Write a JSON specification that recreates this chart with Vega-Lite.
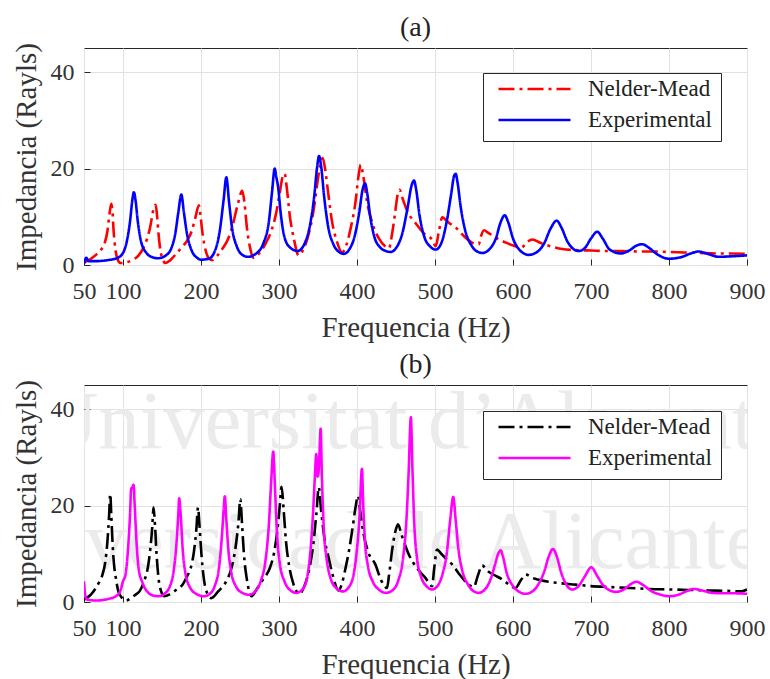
{
"$schema": "https://vega.github.io/schema/vega-lite/v6.json",
"autosize": {"type": "pad"},
"padding": {"left": 11, "top": 13, "right": 0, "bottom": 2},
"background": "white",
"spacing": 120,
"bounds": "flush",
"config": {
  "font": "Liberation Serif",
  "view": {"stroke": "#262626", "strokeWidth": 1},
  "axis": {"labelFont": "Liberation Serif", "titleFont": "Liberation Serif", "labelFontSize": 24, "titleFontSize": 29, "titleFontWeight": "normal", "labelColor": "#333333", "titleColor": "#333333", "gridColor": "#e2e2e2", "gridWidth": 1, "domain": false, "ticks": true, "tickColor": "#262626", "tickSize": -6, "labelOverlap": false, "labelFlush": false},
  "axisX": {"labelPadding": 20, "titlePadding": 10},
  "axisY": {"labelPadding": 16, "titlePadding": 9},
  "title": {"font": "Liberation Serif", "fontSize": 28, "fontWeight": "normal", "color": "#222222", "offset": 1},
  "legend": {"orient": "none", "legendX": 399, "title": null, "symbolType": "stroke", "symbolSize": 5184, "symbolStrokeWidth": 2.6, "labelFont": "Liberation Serif", "labelFontSize": 23, "labelColor": "#222222", "strokeColor": "#262626", "fillColor": "white", "padding": 9, "clipHeight": 14, "rowPadding": 8, "symbolOffset": 5, "labelOffset": 16}
},
"datasets": {
"a": [
{"k":"Nelder-Mead","f":50,"v":0.5},{"k":"Nelder-Mead","f":58,"v":1.2},{"k":"Nelder-Mead","f":66,"v":2.2},{"k":"Nelder-Mead","f":72,"v":3.2},{"k":"Nelder-Mead","f":77,"v":4.8},{"k":"Nelder-Mead","f":80,"v":7},{"k":"Nelder-Mead","f":83,"v":11},{"k":"Nelder-Mead","f":85,"v":12.7},{"k":"Nelder-Mead","f":86.5,"v":11},{"k":"Nelder-Mead","f":88,"v":7},{"k":"Nelder-Mead","f":90.5,"v":3},{"k":"Nelder-Mead","f":93,"v":1.2},{"k":"Nelder-Mead","f":97,"v":0.4},{"k":"Nelder-Mead","f":105,"v":0.6},{"k":"Nelder-Mead","f":113,"v":1.1},{"k":"Nelder-Mead","f":120,"v":2},{"k":"Nelder-Mead","f":126,"v":3.5},{"k":"Nelder-Mead","f":131,"v":5.5},{"k":"Nelder-Mead","f":135,"v":8},{"k":"Nelder-Mead","f":139,"v":11.5},{"k":"Nelder-Mead","f":141.9,"v":12.5},{"k":"Nelder-Mead","f":143.5,"v":10.5},{"k":"Nelder-Mead","f":145.5,"v":6.5},{"k":"Nelder-Mead","f":148,"v":3},{"k":"Nelder-Mead","f":151,"v":1.2},{"k":"Nelder-Mead","f":154,"v":0.4},{"k":"Nelder-Mead","f":160,"v":0.9},{"k":"Nelder-Mead","f":168,"v":2.3},{"k":"Nelder-Mead","f":175,"v":3.6},{"k":"Nelder-Mead","f":182,"v":5},{"k":"Nelder-Mead","f":188,"v":7},{"k":"Nelder-Mead","f":193,"v":10},{"k":"Nelder-Mead","f":197.4,"v":12.4},{"k":"Nelder-Mead","f":199.5,"v":10},{"k":"Nelder-Mead","f":202,"v":6.5},{"k":"Nelder-Mead","f":206,"v":3},{"k":"Nelder-Mead","f":210,"v":1.4},{"k":"Nelder-Mead","f":214,"v":1.0},{"k":"Nelder-Mead","f":220,"v":1.8},{"k":"Nelder-Mead","f":228,"v":3.5},{"k":"Nelder-Mead","f":235,"v":5.5},{"k":"Nelder-Mead","f":241,"v":8.5},{"k":"Nelder-Mead","f":247,"v":12.5},{"k":"Nelder-Mead","f":253,"v":15.4},{"k":"Nelder-Mead","f":256,"v":12.5},{"k":"Nelder-Mead","f":259,"v":7.5},{"k":"Nelder-Mead","f":263,"v":3.5},{"k":"Nelder-Mead","f":267,"v":1.5},{"k":"Nelder-Mead","f":275,"v":2.5},{"k":"Nelder-Mead","f":283,"v":4.5},{"k":"Nelder-Mead","f":290,"v":7},{"k":"Nelder-Mead","f":296,"v":10.5},{"k":"Nelder-Mead","f":301,"v":15},{"k":"Nelder-Mead","f":305,"v":18.5},{"k":"Nelder-Mead","f":307.3,"v":18.9},{"k":"Nelder-Mead","f":310,"v":16},{"k":"Nelder-Mead","f":314,"v":10},{"k":"Nelder-Mead","f":319,"v":5.5},{"k":"Nelder-Mead","f":325,"v":2.0},{"k":"Nelder-Mead","f":332,"v":3.5},{"k":"Nelder-Mead","f":339,"v":7},{"k":"Nelder-Mead","f":345,"v":12},{"k":"Nelder-Mead","f":350,"v":18},{"k":"Nelder-Mead","f":354,"v":21.5},{"k":"Nelder-Mead","f":356,"v":22.2},{"k":"Nelder-Mead","f":359,"v":20},{"k":"Nelder-Mead","f":363,"v":15},{"k":"Nelder-Mead","f":368,"v":9},{"k":"Nelder-Mead","f":374,"v":5},{"k":"Nelder-Mead","f":381,"v":2.6},{"k":"Nelder-Mead","f":386,"v":4},{"k":"Nelder-Mead","f":392,"v":7.7},{"k":"Nelder-Mead","f":398,"v":13},{"k":"Nelder-Mead","f":402,"v":18.5},{"k":"Nelder-Mead","f":404.7,"v":20.8},{"k":"Nelder-Mead","f":408,"v":18.5},{"k":"Nelder-Mead","f":413,"v":13},{"k":"Nelder-Mead","f":420,"v":8.5},{"k":"Nelder-Mead","f":428,"v":5.5},{"k":"Nelder-Mead","f":436,"v":3.9},{"k":"Nelder-Mead","f":441,"v":3.5},{"k":"Nelder-Mead","f":445,"v":6.5},{"k":"Nelder-Mead","f":449,"v":11},{"k":"Nelder-Mead","f":452,"v":14.5},{"k":"Nelder-Mead","f":454.7,"v":15.6},{"k":"Nelder-Mead","f":458,"v":14},{"k":"Nelder-Mead","f":465,"v":11},{"k":"Nelder-Mead","f":475,"v":8.7},{"k":"Nelder-Mead","f":486,"v":6.5},{"k":"Nelder-Mead","f":496,"v":5.3},{"k":"Nelder-Mead","f":501,"v":3.9},{"k":"Nelder-Mead","f":505,"v":7},{"k":"Nelder-Mead","f":509.4,"v":9.9},{"k":"Nelder-Mead","f":514,"v":9.3},{"k":"Nelder-Mead","f":520,"v":8.5},{"k":"Nelder-Mead","f":527,"v":7.7},{"k":"Nelder-Mead","f":537,"v":6},{"k":"Nelder-Mead","f":548,"v":4.6},{"k":"Nelder-Mead","f":556,"v":4.3},{"k":"Nelder-Mead","f":559,"v":6},{"k":"Nelder-Mead","f":562.8,"v":7.2},{"k":"Nelder-Mead","f":568,"v":6.7},{"k":"Nelder-Mead","f":575,"v":6},{"k":"Nelder-Mead","f":582,"v":5.3},{"k":"Nelder-Mead","f":593,"v":4.5},{"k":"Nelder-Mead","f":603,"v":3.9},{"k":"Nelder-Mead","f":611,"v":3.6},{"k":"Nelder-Mead","f":617,"v":4.6},{"k":"Nelder-Mead","f":624.8,"v":5.3},{"k":"Nelder-Mead","f":635,"v":4.6},{"k":"Nelder-Mead","f":650,"v":3.8},{"k":"Nelder-Mead","f":663,"v":3.3},{"k":"Nelder-Mead","f":680,"v":3.1},{"k":"Nelder-Mead","f":700,"v":3.0},{"k":"Nelder-Mead","f":720,"v":2.9},{"k":"Nelder-Mead","f":740,"v":2.9},{"k":"Nelder-Mead","f":760,"v":2.8},{"k":"Nelder-Mead","f":780,"v":2.8},{"k":"Nelder-Mead","f":800,"v":2.7},{"k":"Nelder-Mead","f":820,"v":2.6},{"k":"Nelder-Mead","f":840,"v":2.5},{"k":"Nelder-Mead","f":860,"v":2.4},{"k":"Nelder-Mead","f":880,"v":2.4},{"k":"Nelder-Mead","f":900,"v":2.3},
{"k":"Experimental","f":50,"v":0.3},{"k":"Experimental","f":53,"v":1.5},{"k":"Experimental","f":56,"v":0.8},{"k":"Experimental","f":65,"v":0.8},{"k":"Experimental","f":80,"v":1.0},{"k":"Experimental","f":92,"v":1.4},{"k":"Experimental","f":100,"v":2.5},{"k":"Experimental","f":105,"v":5},{"k":"Experimental","f":109,"v":9},{"k":"Experimental","f":112,"v":13.5},{"k":"Experimental","f":114,"v":15.1},{"k":"Experimental","f":116,"v":13.5},{"k":"Experimental","f":119,"v":9},{"k":"Experimental","f":123,"v":5},{"k":"Experimental","f":130,"v":2.5},{"k":"Experimental","f":138,"v":1.6},{"k":"Experimental","f":145,"v":1.4},{"k":"Experimental","f":155,"v":2.0},{"k":"Experimental","f":162,"v":3.5},{"k":"Experimental","f":167,"v":6.5},{"k":"Experimental","f":171,"v":11},{"k":"Experimental","f":174.8,"v":14.6},{"k":"Experimental","f":178,"v":11},{"k":"Experimental","f":182,"v":6.5},{"k":"Experimental","f":188,"v":3},{"k":"Experimental","f":195,"v":1.5},{"k":"Experimental","f":200,"v":1.1},{"k":"Experimental","f":210,"v":1.3},{"k":"Experimental","f":218,"v":3},{"k":"Experimental","f":224,"v":7},{"k":"Experimental","f":229,"v":13.5},{"k":"Experimental","f":232.5,"v":18.2},{"k":"Experimental","f":236,"v":13},{"k":"Experimental","f":240,"v":7.5},{"k":"Experimental","f":246,"v":3.8},{"k":"Experimental","f":253,"v":2.1},{"k":"Experimental","f":260,"v":1.7},{"k":"Experimental","f":270,"v":2.3},{"k":"Experimental","f":280,"v":4.5},{"k":"Experimental","f":287,"v":9},{"k":"Experimental","f":291,"v":15},{"k":"Experimental","f":294.5,"v":20.0},{"k":"Experimental","f":296.5,"v":18.3},{"k":"Experimental","f":299,"v":16},{"k":"Experimental","f":302,"v":11},{"k":"Experimental","f":306,"v":6.5},{"k":"Experimental","f":313,"v":3.8},{"k":"Experimental","f":324,"v":2.9},{"k":"Experimental","f":333,"v":4.5},{"k":"Experimental","f":340,"v":8.5},{"k":"Experimental","f":345,"v":14},{"k":"Experimental","f":349,"v":20.5},{"k":"Experimental","f":351.3,"v":22.6},{"k":"Experimental","f":354,"v":20.5},{"k":"Experimental","f":358,"v":14},{"k":"Experimental","f":363,"v":8},{"k":"Experimental","f":370,"v":4.2},{"k":"Experimental","f":377,"v":2.7},{"k":"Experimental","f":383,"v":2.3},{"k":"Experimental","f":390,"v":3.2},{"k":"Experimental","f":397,"v":6},{"k":"Experimental","f":403,"v":11},{"k":"Experimental","f":407,"v":15.5},{"k":"Experimental","f":410.3,"v":16.9},{"k":"Experimental","f":413,"v":15},{"k":"Experimental","f":417,"v":10},{"k":"Experimental","f":422,"v":6},{"k":"Experimental","f":430,"v":3.6},{"k":"Experimental","f":437,"v":2.9},{"k":"Experimental","f":443,"v":2.7},{"k":"Experimental","f":450,"v":3.5},{"k":"Experimental","f":458,"v":6.5},{"k":"Experimental","f":465,"v":12},{"k":"Experimental","f":470,"v":16.5},{"k":"Experimental","f":473.1,"v":17.5},{"k":"Experimental","f":476,"v":15.5},{"k":"Experimental","f":480,"v":10.5},{"k":"Experimental","f":486,"v":6},{"k":"Experimental","f":494,"v":3.8},{"k":"Experimental","f":501,"v":3.2},{"k":"Experimental","f":508,"v":4.5},{"k":"Experimental","f":515,"v":9},{"k":"Experimental","f":521,"v":15},{"k":"Experimental","f":524.5,"v":18.5},{"k":"Experimental","f":526.5,"v":18.9},{"k":"Experimental","f":529,"v":17},{"k":"Experimental","f":533,"v":12},{"k":"Experimental","f":539,"v":7},{"k":"Experimental","f":547,"v":4},{"k":"Experimental","f":554,"v":2.8},{"k":"Experimental","f":561,"v":2.5},{"k":"Experimental","f":570,"v":3.3},{"k":"Experimental","f":578,"v":5.5},{"k":"Experimental","f":584,"v":8.8},{"k":"Experimental","f":589.4,"v":10.3},{"k":"Experimental","f":594,"v":8.8},{"k":"Experimental","f":600,"v":5.5},{"k":"Experimental","f":608,"v":3.2},{"k":"Experimental","f":620,"v":2.1},{"k":"Experimental","f":630,"v":2.6},{"k":"Experimental","f":640,"v":4.5},{"k":"Experimental","f":648,"v":7.5},{"k":"Experimental","f":656,"v":9.2},{"k":"Experimental","f":662,"v":7.8},{"k":"Experimental","f":670,"v":4.8},{"k":"Experimental","f":684,"v":2.9},{"k":"Experimental","f":692,"v":3.5},{"k":"Experimental","f":700,"v":5.5},{"k":"Experimental","f":708,"v":6.9},{"k":"Experimental","f":715,"v":5.5},{"k":"Experimental","f":724,"v":3.2},{"k":"Experimental","f":738,"v":2.4},{"k":"Experimental","f":750,"v":3.1},{"k":"Experimental","f":758,"v":4},{"k":"Experimental","f":766,"v":4.3},{"k":"Experimental","f":774,"v":3.6},{"k":"Experimental","f":785,"v":2.2},{"k":"Experimental","f":800,"v":1.3},{"k":"Experimental","f":815,"v":1.6},{"k":"Experimental","f":828,"v":2.4},{"k":"Experimental","f":838,"v":2.8},{"k":"Experimental","f":848,"v":2.4},{"k":"Experimental","f":864,"v":1.7},{"k":"Experimental","f":880,"v":1.8},{"k":"Experimental","f":900,"v":2.0}
],
"b": [
{"k":"Nelder-Mead","f":50,"v":0.5},{"k":"Nelder-Mead","f":58,"v":1.4},{"k":"Nelder-Mead","f":65.1,"v":2.9},{"k":"Nelder-Mead","f":70,"v":4.3},{"k":"Nelder-Mead","f":73.7,"v":5.7},{"k":"Nelder-Mead","f":77,"v":8},{"k":"Nelder-Mead","f":80,"v":12.5},{"k":"Nelder-Mead","f":82.2,"v":18},{"k":"Nelder-Mead","f":83.6,"v":22.4},{"k":"Nelder-Mead","f":85,"v":18},{"k":"Nelder-Mead","f":87,"v":11},{"k":"Nelder-Mead","f":89,"v":7},{"k":"Nelder-Mead","f":90.8,"v":5},{"k":"Nelder-Mead","f":94,"v":2.2},{"k":"Nelder-Mead","f":99,"v":0.8},{"k":"Nelder-Mead","f":104,"v":0.3},{"k":"Nelder-Mead","f":110,"v":0.8},{"k":"Nelder-Mead","f":116,"v":1.5},{"k":"Nelder-Mead","f":121.1,"v":2.2},{"k":"Nelder-Mead","f":127,"v":4.3},{"k":"Nelder-Mead","f":131.8,"v":7.1},{"k":"Nelder-Mead","f":135,"v":11},{"k":"Nelder-Mead","f":137.5,"v":15.5},{"k":"Nelder-Mead","f":139.1,"v":19.6},{"k":"Nelder-Mead","f":141,"v":16},{"k":"Nelder-Mead","f":143,"v":10},{"k":"Nelder-Mead","f":145.5,"v":5},{"k":"Nelder-Mead","f":148.5,"v":2.4},{"k":"Nelder-Mead","f":152.8,"v":1.2},{"k":"Nelder-Mead","f":160,"v":1.6},{"k":"Nelder-Mead","f":168,"v":2.5},{"k":"Nelder-Mead","f":176.3,"v":3.6},{"k":"Nelder-Mead","f":182,"v":5.3},{"k":"Nelder-Mead","f":186.9,"v":7.1},{"k":"Nelder-Mead","f":191,"v":10.5},{"k":"Nelder-Mead","f":194,"v":15},{"k":"Nelder-Mead","f":196.2,"v":19.6},{"k":"Nelder-Mead","f":198,"v":16},{"k":"Nelder-Mead","f":200.5,"v":10},{"k":"Nelder-Mead","f":203.5,"v":5},{"k":"Nelder-Mead","f":207,"v":2.2},{"k":"Nelder-Mead","f":213.2,"v":0.8},{"k":"Nelder-Mead","f":222,"v":2.2},{"k":"Nelder-Mead","f":232.3,"v":4.3},{"k":"Nelder-Mead","f":239,"v":7},{"k":"Nelder-Mead","f":244,"v":11},{"k":"Nelder-Mead","f":248,"v":16.5},{"k":"Nelder-Mead","f":250.4,"v":21.3},{"k":"Nelder-Mead","f":252.5,"v":16.5},{"k":"Nelder-Mead","f":255,"v":10},{"k":"Nelder-Mead","f":258.5,"v":5},{"k":"Nelder-Mead","f":261.5,"v":2.4},{"k":"Nelder-Mead","f":264.8,"v":1.2},{"k":"Nelder-Mead","f":272,"v":2.8},{"k":"Nelder-Mead","f":280,"v":4.8},{"k":"Nelder-Mead","f":288.4,"v":7.1},{"k":"Nelder-Mead","f":294,"v":10.5},{"k":"Nelder-Mead","f":298,"v":15},{"k":"Nelder-Mead","f":301,"v":20},{"k":"Nelder-Mead","f":303.3,"v":23.9},{"k":"Nelder-Mead","f":306,"v":19},{"k":"Nelder-Mead","f":309,"v":12.5},{"k":"Nelder-Mead","f":313,"v":7.5},{"k":"Nelder-Mead","f":318,"v":4},{"k":"Nelder-Mead","f":326,"v":1.7},{"k":"Nelder-Mead","f":333,"v":3.5},{"k":"Nelder-Mead","f":339,"v":7},{"k":"Nelder-Mead","f":344,"v":12},{"k":"Nelder-Mead","f":348,"v":18.5},{"k":"Nelder-Mead","f":351,"v":23.8},{"k":"Nelder-Mead","f":354,"v":19},{"k":"Nelder-Mead","f":358,"v":13.5},{"k":"Nelder-Mead","f":363.6,"v":9.2},{"k":"Nelder-Mead","f":369,"v":5.5},{"k":"Nelder-Mead","f":376.4,"v":2.4},{"k":"Nelder-Mead","f":381,"v":4},{"k":"Nelder-Mead","f":385,"v":6.8},{"k":"Nelder-Mead","f":389.7,"v":10.6},{"k":"Nelder-Mead","f":394,"v":15},{"k":"Nelder-Mead","f":398,"v":19.5},{"k":"Nelder-Mead","f":401.3,"v":22},{"k":"Nelder-Mead","f":404,"v":19},{"k":"Nelder-Mead","f":408,"v":14.5},{"k":"Nelder-Mead","f":414,"v":10.5},{"k":"Nelder-Mead","f":423.5,"v":7.8},{"k":"Nelder-Mead","f":431,"v":4.5},{"k":"Nelder-Mead","f":438.5,"v":2.9},{"k":"Nelder-Mead","f":441,"v":5.5},{"k":"Nelder-Mead","f":444.9,"v":10.6},{"k":"Nelder-Mead","f":449,"v":14.5},{"k":"Nelder-Mead","f":452.6,"v":16.1},{"k":"Nelder-Mead","f":457,"v":14},{"k":"Nelder-Mead","f":466.3,"v":9.9},{"k":"Nelder-Mead","f":477,"v":7},{"k":"Nelder-Mead","f":487.7,"v":5},{"k":"Nelder-Mead","f":496.2,"v":3.3},{"k":"Nelder-Mead","f":499,"v":7},{"k":"Nelder-Mead","f":502.6,"v":10.9},{"k":"Nelder-Mead","f":508,"v":10},{"k":"Nelder-Mead","f":514,"v":9},{"k":"Nelder-Mead","f":521.9,"v":7.8},{"k":"Nelder-Mead","f":532,"v":5.6},{"k":"Nelder-Mead","f":543.3,"v":3.6},{"k":"Nelder-Mead","f":549.7,"v":3.1},{"k":"Nelder-Mead","f":555,"v":5.5},{"k":"Nelder-Mead","f":560.4,"v":7.6},{"k":"Nelder-Mead","f":567,"v":6.5},{"k":"Nelder-Mead","f":576,"v":5.6},{"k":"Nelder-Mead","f":586,"v":4.7},{"k":"Nelder-Mead","f":595,"v":3.6},{"k":"Nelder-Mead","f":603.2,"v":2.9},{"k":"Nelder-Mead","f":610,"v":4.5},{"k":"Nelder-Mead","f":616.3,"v":5.7},{"k":"Nelder-Mead","f":625,"v":5.0},{"k":"Nelder-Mead","f":642,"v":4.3},{"k":"Nelder-Mead","f":660,"v":3.9},{"k":"Nelder-Mead","f":680,"v":3.6},{"k":"Nelder-Mead","f":700,"v":3.3},{"k":"Nelder-Mead","f":725,"v":3.1},{"k":"Nelder-Mead","f":750,"v":2.9},{"k":"Nelder-Mead","f":775,"v":2.7},{"k":"Nelder-Mead","f":800,"v":2.6},{"k":"Nelder-Mead","f":825,"v":2.5},{"k":"Nelder-Mead","f":850,"v":2.4},{"k":"Nelder-Mead","f":875,"v":2.3},{"k":"Nelder-Mead","f":893,"v":2.2},{"k":"Nelder-Mead","f":900,"v":2.6},
{"k":"Experimental","f":50,"v":4.3},{"k":"Experimental","f":51.5,"v":1.5},{"k":"Experimental","f":54,"v":0.5},{"k":"Experimental","f":65,"v":0.3},{"k":"Experimental","f":80,"v":0.6},{"k":"Experimental","f":91,"v":1.2},{"k":"Experimental","f":97,"v":2.5},{"k":"Experimental","f":100,"v":4.3},{"k":"Experimental","f":103,"v":5.5},{"k":"Experimental","f":106,"v":10},{"k":"Experimental","f":109,"v":18},{"k":"Experimental","f":110.5,"v":23.5},{"k":"Experimental","f":112,"v":23.8},{"k":"Experimental","f":113.5,"v":24.3},{"k":"Experimental","f":115,"v":20},{"k":"Experimental","f":117.5,"v":12},{"k":"Experimental","f":120,"v":7},{"k":"Experimental","f":125,"v":4},{"k":"Experimental","f":132,"v":2},{"k":"Experimental","f":140,"v":1.3},{"k":"Experimental","f":146,"v":1.2},{"k":"Experimental","f":153,"v":1.7},{"k":"Experimental","f":160,"v":3.2},{"k":"Experimental","f":165,"v":6.5},{"k":"Experimental","f":168.5,"v":12},{"k":"Experimental","f":171,"v":18.5},{"k":"Experimental","f":172,"v":21.5},{"k":"Experimental","f":174,"v":18},{"k":"Experimental","f":176.5,"v":11},{"k":"Experimental","f":180,"v":6},{"k":"Experimental","f":186,"v":3},{"k":"Experimental","f":195,"v":1.6},{"k":"Experimental","f":204,"v":1.2},{"k":"Experimental","f":212,"v":1.8},{"k":"Experimental","f":218,"v":3.5},{"k":"Experimental","f":223,"v":7},{"k":"Experimental","f":226.5,"v":13},{"k":"Experimental","f":229,"v":19},{"k":"Experimental","f":230.5,"v":21.9},{"k":"Experimental","f":232.5,"v":17},{"k":"Experimental","f":235,"v":11},{"k":"Experimental","f":239,"v":6},{"k":"Experimental","f":245,"v":3.2},{"k":"Experimental","f":253,"v":1.9},{"k":"Experimental","f":262,"v":1.5},{"k":"Experimental","f":270,"v":2.3},{"k":"Experimental","f":277,"v":4.5},{"k":"Experimental","f":283,"v":9},{"k":"Experimental","f":287,"v":16},{"k":"Experimental","f":290,"v":25},{"k":"Experimental","f":292.6,"v":31.2},{"k":"Experimental","f":295,"v":23},{"k":"Experimental","f":297.5,"v":14},{"k":"Experimental","f":301,"v":8},{"k":"Experimental","f":307,"v":4.3},{"k":"Experimental","f":314,"v":2.5},{"k":"Experimental","f":322,"v":1.9},{"k":"Experimental","f":330,"v":2.6},{"k":"Experimental","f":336,"v":5},{"k":"Experimental","f":340,"v":10},{"k":"Experimental","f":343.5,"v":18},{"k":"Experimental","f":346,"v":26},{"k":"Experimental","f":347.8,"v":30.7},{"k":"Experimental","f":349.5,"v":26},{"k":"Experimental","f":351,"v":27.5},{"k":"Experimental","f":353.4,"v":35.9},{"k":"Experimental","f":355,"v":26},{"k":"Experimental","f":357.5,"v":15},{"k":"Experimental","f":361,"v":9},{"k":"Experimental","f":366,"v":5},{"k":"Experimental","f":374,"v":2.8},{"k":"Experimental","f":382,"v":2.2},{"k":"Experimental","f":390,"v":3.2},{"k":"Experimental","f":396,"v":6},{"k":"Experimental","f":400,"v":11},{"k":"Experimental","f":403,"v":17},{"k":"Experimental","f":406.3,"v":27.6},{"k":"Experimental","f":408,"v":20},{"k":"Experimental","f":410.5,"v":12},{"k":"Experimental","f":414,"v":7.5},{"k":"Experimental","f":420,"v":4.3},{"k":"Experimental","f":428,"v":2.6},{"k":"Experimental","f":437,"v":1.9},{"k":"Experimental","f":446,"v":2.5},{"k":"Experimental","f":453,"v":4.5},{"k":"Experimental","f":459,"v":9},{"k":"Experimental","f":463,"v":16},{"k":"Experimental","f":466,"v":26},{"k":"Experimental","f":469.1,"v":38.3},{"k":"Experimental","f":471,"v":28},{"k":"Experimental","f":473.5,"v":16},{"k":"Experimental","f":477,"v":9},{"k":"Experimental","f":482,"v":5.3},{"k":"Experimental","f":489,"v":3.3},{"k":"Experimental","f":496.5,"v":2.6},{"k":"Experimental","f":504,"v":3.5},{"k":"Experimental","f":510,"v":6},{"k":"Experimental","f":515,"v":10},{"k":"Experimental","f":519.5,"v":17},{"k":"Experimental","f":523.4,"v":21.8},{"k":"Experimental","f":526.5,"v":17},{"k":"Experimental","f":530,"v":11},{"k":"Experimental","f":535,"v":6.5},{"k":"Experimental","f":542,"v":3.7},{"k":"Experimental","f":550,"v":2.2},{"k":"Experimental","f":556,"v":1.9},{"k":"Experimental","f":564,"v":2.6},{"k":"Experimental","f":571,"v":4.6},{"k":"Experimental","f":577,"v":7.8},{"k":"Experimental","f":581,"v":10},{"k":"Experimental","f":584.2,"v":10.7},{"k":"Experimental","f":587,"v":9.5},{"k":"Experimental","f":592,"v":6},{"k":"Experimental","f":600,"v":3.3},{"k":"Experimental","f":608,"v":2.1},{"k":"Experimental","f":616,"v":1.7},{"k":"Experimental","f":625,"v":2.2},{"k":"Experimental","f":633,"v":3.8},{"k":"Experimental","f":640,"v":6.3},{"k":"Experimental","f":646,"v":9.5},{"k":"Experimental","f":651.3,"v":11.0},{"k":"Experimental","f":656,"v":9.5},{"k":"Experimental","f":662,"v":6},{"k":"Experimental","f":670,"v":3.2},{"k":"Experimental","f":676,"v":2.6},{"k":"Experimental","f":684,"v":3.3},{"k":"Experimental","f":692,"v":5.3},{"k":"Experimental","f":700.4,"v":7.2},{"k":"Experimental","f":708,"v":5.4},{"k":"Experimental","f":716,"v":3.4},{"k":"Experimental","f":731.6,"v":2.1},{"k":"Experimental","f":742,"v":2.6},{"k":"Experimental","f":751,"v":3.7},{"k":"Experimental","f":758.5,"v":4.2},{"k":"Experimental","f":766,"v":3.6},{"k":"Experimental","f":778,"v":2.2},{"k":"Experimental","f":790,"v":1.5},{"k":"Experimental","f":800,"v":1.2},{"k":"Experimental","f":812,"v":1.5},{"k":"Experimental","f":822,"v":2.2},{"k":"Experimental","f":832,"v":2.7},{"k":"Experimental","f":842,"v":2.4},{"k":"Experimental","f":855,"v":1.9},{"k":"Experimental","f":870,"v":1.8},{"k":"Experimental","f":885,"v":1.8},{"k":"Experimental","f":900,"v":1.7}
],
"wm": [
{"t":"Universitat d\u2019Alacant","f":451,"v":32},
{"t":"Universidad de Alicante","f":406,"v":7}
]
},
"vconcat": [
{
  "width": 663, "height": 217,
  "title": "(a)",
  "data": {"name": "a"},
  "mark": {"type": "line", "interpolate": "monotone", "strokeWidth": 2.6, "clip": true},
  "encoding": {
    "x": {"field": "f", "type": "quantitative", "scale": {"domain": [50, 900], "nice": false, "zero": false}, "axis": {"values": [50,100,200,300,400,500,600,700,800,900], "title": "Frequencia (Hz)"}},
    "y": {"field": "v", "type": "quantitative", "scale": {"domain": [0, 45], "nice": false}, "axis": {"values": [0,20,40], "title": "Impedancia (Rayls)"}},
    "color": {"field": "k", "type": "nominal", "scale": {"domain": ["Nelder-Mead", "Experimental"], "range": ["#ff0000", "#0000ff"]}, "legend": {"legendY": 25}},
    "strokeDash": {"field": "k", "type": "nominal", "scale": {"domain": ["Nelder-Mead", "Experimental"], "range": [[16,5,3,5],[1,0]]}, "legend": {"legendY": 25}}
  }
},
{
  "width": 663, "height": 217,
  "title": "(b)",
  "encoding": {
    "x": {"field": "f", "type": "quantitative", "scale": {"domain": [50, 900], "nice": false, "zero": false}, "axis": {"values": [50,100,200,300,400,500,600,700,800,900], "title": "Frequencia (Hz)"}},
    "y": {"field": "v", "type": "quantitative", "scale": {"domain": [0, 45], "nice": false}, "axis": {"values": [0,20,40], "title": "Impedancia (Rayls)"}}
  },
  "layer": [
    {
      "data": {"name": "wm"},
      "mark": {"type": "text", "font": "Liberation Serif", "fontSize": 83, "color": "#ebebeb", "align": "center", "baseline": "alphabetic", "clip": true},
      "encoding": {
        "text": {"field": "t", "type": "nominal"}
      }
    },
    {
      "data": {"name": "b"},
      "mark": {"type": "line", "interpolate": "monotone", "strokeWidth": 2.6, "clip": true},
      "encoding": {
        "color": {"field": "k", "type": "nominal", "scale": {"domain": ["Nelder-Mead", "Experimental"], "range": ["#000000", "#ff00ff"]}, "legend": {"legendY": 26}},
        "strokeDash": {"field": "k", "type": "nominal", "scale": {"domain": ["Nelder-Mead", "Experimental"], "range": [[16,5,3,5],[1,0]]}, "legend": {"legendY": 26}}
      }
    }
  ]
}
],
"resolve": {"scale": {"color": "independent", "strokeDash": "independent"}}
}
